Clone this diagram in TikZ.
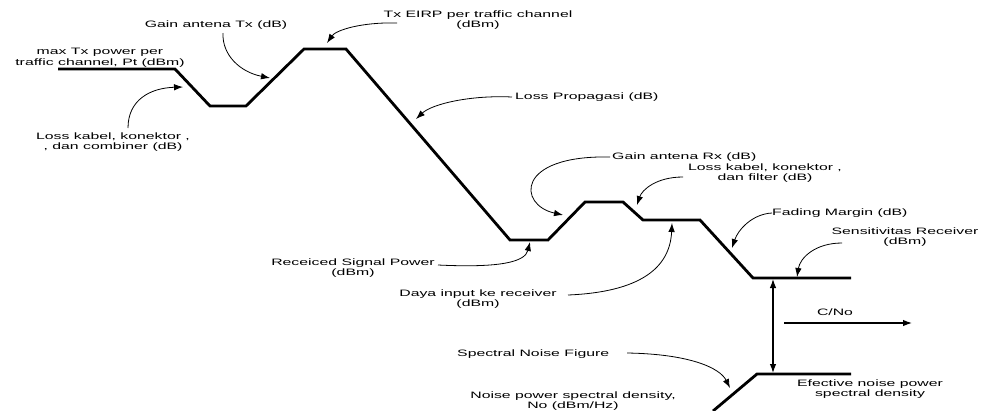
\documentclass[tikz,border=0pt]{standalone}
\usepackage{fontspec}
\newfontfamily\lbl{Liberation Sans}[FakeStretch=1.7]
\usetikzlibrary{arrows.meta}
\begin{document}
\begin{tikzpicture}[x=1pt,y=-1pt,
  lab/.style={font=\lbl\fontsize{9.3}{10.5}\selectfont, inner sep=0pt, align=center},
  mainline/.style={line width=2.8pt, line join=miter},
  callout/.style={line width=0.8pt, -{Latex[length=9pt,width=6.5pt]}},
  meas/.style={line width=1.2pt},
  dbl/.style={{Latex[length=9pt,width=6.5pt]}-{Latex[length=9pt,width=6.5pt]}},
  sgl/.style={-{Latex[length=9pt,width=6.5pt]}}
]
\useasboundingbox (0,0) rectangle (984,410);
\fill[white] (0,0) rectangle (984,410);
% main level diagram
\coordinate (p0) at (58,69);
\coordinate (p1) at (175,69);
\coordinate (p2) at (210,106);
\coordinate (p3) at (246,106);
\coordinate (p4) at (304,49);
\coordinate (p5) at (346,49);
\coordinate (p6) at (510,240);
\coordinate (p7) at (548,240);
\coordinate (p8) at (585,202);
\coordinate (p9) at (623,202);
\coordinate (p10) at (643,220);
\coordinate (p11) at (700,220);
\coordinate (p12) at (753,278);
\coordinate (p13) at (851,278);
\draw[mainline] (p0) -- (p1) -- (p2) -- (p3) -- (p4) -- (p5) -- (p6) -- (p7) -- (p8) -- (p9) -- (p10) -- (p11) -- (p12) -- (p13);
% noise line
\coordinate (n0) at (713,411);
\coordinate (n1) at (757,374);
\coordinate (n2) at (851,374);
\draw[mainline] (n0) -- (n1) -- (n2);
% labels
\node[lab] (ltx) at (100,58) {max Tx power per\\traffic channel, Pt (dBm)};
\node[lab] (lgtx) at (216,25) {Gain antena Tx (dB)};
\node[lab] (leirp) at (478,20) {Tx EIRP per traffic channel\\(dBm)};
\node[lab, anchor=west] (lprop) at (515,97) {Loss Propagasi (dB)};
\node[lab] (lkc) at (113,142) {Loss kabel, konektor ,\\, dan combiner (dB)};
\node[lab, anchor=west] (lgrx) at (612,157) {Gain antena Rx (dB)};
\node[lab] (lkf) at (765,173) {Loss kabel, konektor ,\\dan filter (dB)};
\node[lab, anchor=west] (lfad) at (772,213) {Fading Margin (dB)};
\node[lab] (lsens) at (905,237) {Sensitivitas Receiver\\(dBm)};
\node[lab] (lrec) at (353,268) {Receiced Signal Power\\(dBm)};
\node[lab] (ldaya) at (478,299) {Daya input ke receiver\\(dBm)};
\node[lab] (lcn) at (835,312) {C/No};
\node[lab, anchor=west] (lsnf) at (457,354) {Spectral Noise Figure};
\node[lab] (lnpsd) at (573,401) {Noise power spectral density,\\No (dBm/Hz)};
\node[lab] (lenp) at (870,389) {Efective noise power\\spectral density};
% callout start points and tips
\coordinate (s1) at (223,33);   \coordinate (t1) at (270,78);
\coordinate (s2) at (128,128);  \coordinate (t2) at (183,87);
\coordinate (s3) at (397,23);   \coordinate (t3) at (327,43);
\coordinate (s4) at (512,97);   \coordinate (t4) at (416,119);
\coordinate (s5) at (610,157);  \coordinate (t5) at (563,215);
\coordinate (s6) at (683,177);  \coordinate (t6) at (637,205);
\coordinate (s7) at (772,213);  \coordinate (t7) at (732,248);
\coordinate (s8) at (842,243);  \coordinate (t8) at (797,277);
\coordinate (s9) at (438,265);  \coordinate (t9) at (530,242);
\coordinate (s10) at (568,295); \coordinate (t10) at (672,223);
\coordinate (s11) at (627,353); \coordinate (t11) at (730,388);
\draw[callout] (s1) .. controls (222,55) and (240,72) .. (t1);
\draw[callout] (s2) .. controls (128,100) and (150,88) .. (t2);
\draw[callout] (s3) .. controls (362,22) and (336,30) .. (t3);
\draw[callout] (s4) .. controls (470,95) and (432,104) .. (t4);
\draw[callout] (s5) .. controls (515,155) and (518,205) .. (t5);
\draw[callout] (s6) .. controls (656,177) and (642,190) .. (t6);
\draw[callout] (s7) .. controls (752,214) and (738,230) .. (t7);
\draw[callout] (s8) .. controls (815,243) and (800,258) .. (t8);
\draw[callout] (s9) .. controls (500,268) and (525,262) .. (t9);
\draw[callout] (s10) .. controls (640,292) and (670,268) .. (t10);
\draw[callout] (s11) .. controls (690,354) and (720,368) .. (t11);
% C/No measurement
\coordinate (va) at (773,279);
\coordinate (vb) at (773,373);
\draw[meas, dbl] (va) -- (vb);
\coordinate (ca) at (784,323);
\coordinate (cb) at (912,323);
\draw[meas, sgl] (ca) -- (cb);
\end{tikzpicture}
\end{document}
